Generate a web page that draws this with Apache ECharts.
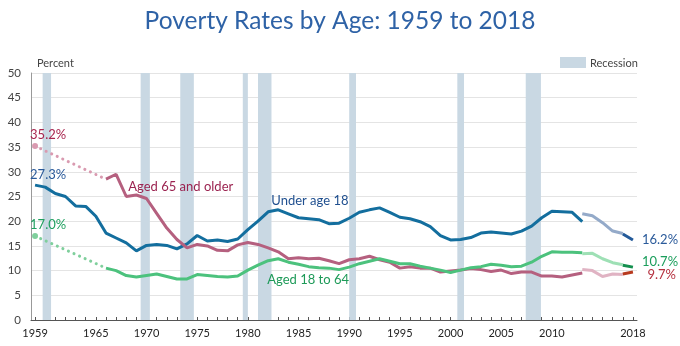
<!DOCTYPE html>
<html>
<head>
<meta charset="utf-8">
<script src="https://cdn.jsdelivr.net/npm/echarts@6/dist/echarts.min.js"></script>
<style>
  html, body { margin: 0; padding: 0; background: #fff; }
  #chart { width: 680px; height: 346px; }
</style>
</head>
<body>
<div id="chart"></div>
<script>
// Official poverty rates by age group, 1959-2018 (percent).
const years = [];
for (let y = 1959; y <= 2013; y++) years.push(y);

// Annual series from 1966 onward (adults), 1959 onward (children)
const under18 = [27.3, 26.9, 25.6, 25.0, 23.1, 23.0, 21.0, 17.6, 16.6, 15.6,
  14.0, 15.1, 15.3, 15.1, 14.4, 15.4, 17.1, 16.0, 16.2, 15.9,
  16.4, 18.3, 20.0, 21.9, 22.3, 21.5, 20.7, 20.5, 20.3, 19.5,
  19.6, 20.6, 21.8, 22.3, 22.7, 21.8, 20.8, 20.5, 19.9, 18.9,
  17.1, 16.2, 16.3, 16.7, 17.6, 17.8, 17.6, 17.4, 18.0, 19.0,
  20.7, 22.0, 21.9, 21.8, 19.9];

const age18to64Years = [];
for (let y = 1966; y <= 2013; y++) age18to64Years.push(y);
const age18to64 = [10.5, 10.0, 9.0, 8.7, 9.0, 9.3, 8.8, 8.3, 8.3, 9.2,
  9.0, 8.8, 8.7, 8.9, 10.1, 11.1, 12.0, 12.4, 11.7, 11.3,
  10.8, 10.6, 10.5, 10.2, 10.7, 11.4, 11.9, 12.4, 11.9, 11.4,
  11.4, 10.9, 10.5, 10.1, 9.6, 10.1, 10.6, 10.8, 11.3, 11.1,
  10.8, 10.9, 11.7, 12.9, 13.8, 13.7, 13.7, 13.6];

const age65Years = age18to64Years;
const age65plus = [28.5, 29.5, 25.0, 25.3, 24.6, 21.6, 18.6, 16.3, 14.6, 15.3,
  15.0, 14.1, 14.0, 15.2, 15.7, 15.3, 14.6, 13.8, 12.4, 12.6,
  12.4, 12.5, 12.0, 11.4, 12.2, 12.4, 12.9, 12.2, 11.7, 10.5,
  10.8, 10.5, 10.5, 9.7, 9.9, 10.1, 10.4, 10.2, 9.8, 10.1,
  9.4, 9.7, 9.7, 8.9, 8.9, 8.7, 9.1, 9.5];

// 1959 estimates, joined to 1966 with a dotted line
const estimateYears = [1959, 1966];
const under18_1959 = 27.3;
const age18to64_1959 = 17.0;
const age65plus_1959 = 35.2;

// Redesigned income questions, 2013-2017
const redesignYears = [2013, 2014, 2015, 2016, 2017];
const under18Redesign = [21.5, 21.1, 19.7, 18.0, 17.5];
const age18to64Redesign = [13.4, 13.5, 12.4, 11.6, 11.2];
const age65Redesign = [10.2, 10.0, 8.8, 9.3, 9.2];

// Updated processing system, 2017-2018
const updatedYears = [2017, 2018];
const under18Updated = [17.4, 16.2];
const age18to64Updated = [11.1, 10.7];
const age65Updated = [9.3, 9.7];

// Recession periods, expressed on the mid-year point scale
const recessions = [
  [1959.75, 1960.58], [1969.42, 1970.33], [1973.33, 1974.67],
  [1979.5, 1980.0], [1981.0, 1982.33], [1990.0, 1990.67],
  [2000.67, 2001.33], [2007.42, 2008.92]
];

const yTicks = [0, 5, 10, 15, 20, 25, 30, 35, 40, 45, 50];
const xLabelYears = [1959, 1965, 1970, 1975, 1980, 1985, 1990, 1995, 2000, 2005, 2010, 2018];
const xTickYears = [];
for (let y = 1959; y <= 2018; y++) xTickYears.push(y);

const pair = (xs, vs) => xs.map((x, i) => [x, vs[i]]);

const BLUE = '#136e9e', BLUE_LIGHT = '#94aac9', BLUE_NEW = '#235a9a';
const GREEN = '#4cc27d', GREEN_LIGHT = '#9ee0b5', GREEN_NEW = '#14904f';
const PINK = '#b5607f', PINK_LIGHT = '#e0b3c3', PINK_NEW = '#b83a1f';
const FONT = 'Lato, "Open Sans", sans-serif';

function line(name, data, color, extra) {
  return Object.assign({
    name: name, type: 'line', data: data, symbol: 'none',
    lineStyle: { color: color, width: 3 }, z: 3, animation: false
  }, extra || {});
}

function dotted(name, data, color) {
  return {
    name: name, type: 'line', data: data, symbol: 'none', animation: false, z: 2,
    lineStyle: { color: color, width: 3, type: [0.1, 6], cap: 'round' },
    markPoint: {
      symbol: 'circle', symbolSize: 6, silent: true, animation: false,
      itemStyle: { color: color }, label: { show: false },
      data: [{ coord: data[0] }]
    }
  };
}

const chart = echarts.init(document.getElementById('chart'), null, { renderer: 'canvas' });

chart.setOption({
  animation: false,
  backgroundColor: '#fff',
  title: {
    text: 'Poverty Rates by Age: 1959 to 2018',
    left: 'center', top: 4,
    textStyle: { fontFamily: FONT, fontSize: 24.5, fontWeight: 'normal', color: '#2e62a6' }
  },
  grid: { left: 31, right: 43, top: 73, bottom: 26, containLabel: false },
  xAxis: {
    type: 'value', min: 1958.6, max: 2018.4,
    splitLine: { show: false },
    axisLine: { show: true, lineStyle: { color: '#555', width: 1 } },
    axisTick: { show: true, inside: true, length: 3, customValues: xTickYears, lineStyle: { color: '#555' } },
    axisLabel: {
      customValues: xLabelYears, margin: 8, color: '#222',
      fontFamily: FONT, fontSize: 11, formatter: v => String(v)
    }
  },
  yAxis: {
    type: 'value', min: 0, max: 50, interval: 5,
    axisLine: { show: true, lineStyle: { color: '#999' } },
    axisTick: { show: false },
    splitLine: { lineStyle: { color: '#e4e4e4' } },
    axisLabel: { margin: 10, color: '#444', fontFamily: FONT, fontSize: 11.5 }
  },
  series: [
    {
      name: 'Recession', type: 'line', data: [], silent: true, animation: false,
      markArea: {
        silent: true, animation: false,
        itemStyle: { color: '#c9d8e3' },
        data: recessions.map(r => [{ xAxis: r[0], yAxis: 0 }, { xAxis: r[1], yAxis: 50 }])
      },
      z: 1
    },
    dotted('65 est', pair(estimateYears, [age65plus_1959, age65plus[0]]), '#d99ab0'),
    dotted('18-64 est', pair(estimateYears, [age18to64_1959, age18to64[0]]), '#7fcf9c'),
    line('Under age 18', pair(years, under18), BLUE),
    line('Aged 65 and older', pair(age65Years, age65plus), PINK),
    line('Aged 18 to 64', pair(age18to64Years, age18to64), GREEN),
    line('Under 18 redesign', pair(redesignYears, under18Redesign), BLUE_LIGHT),
    line('18-64 redesign', pair(redesignYears, age18to64Redesign), GREEN_LIGHT),
    line('65+ redesign', pair(redesignYears, age65Redesign), PINK_LIGHT),
    line('Under 18 updated', pair(updatedYears, under18Updated), BLUE_NEW),
    line('18-64 updated', pair(updatedYears, age18to64Updated), GREEN_NEW),
    line('65+ updated', pair(updatedYears, age65Updated), PINK_NEW)
  ]
});

// Annotations anchored to data points
const px = (x, v) => chart.convertToPixel({ gridIndex: 0 }, [x, v]);
const pct = v => v.toFixed(1) + '%';
function txt(text, pos, dx, dy, color, align) {
  return {
    type: 'text', x: pos[0] + dx, y: pos[1] + dy, z: 10, silent: true,
    style: { text: text, fill: color, font: '13px ' + FONT, textAlign: align || 'left', textVerticalAlign: 'middle' }
  };
}

const graphics = [
  txt(pct(age65plus_1959), px(1959, age65plus_1959), -5, -11, '#a8264f'),
  txt(pct(under18_1959), px(1959, under18_1959), -5, -10, '#2a5a9a'),
  txt(pct(age18to64_1959), px(1959, age18to64_1959), -5, -11, '#20a060'),
  txt(pct(under18Updated[1]), px(2018, under18Updated[1]), 9, 0, '#2a5a9a'),
  txt(pct(age18to64Updated[1]), px(2018, age18to64Updated[1]), 9, -5, '#1b9e5c'),
  txt(pct(age65Updated[1]), px(2018, age65Updated[1]), 43, 3, '#b5303f', 'right'),
  txt('Aged 65 and older', px(1968, 25.0), 2, -10, '#9b2350'),
  txt('Under age 18', px(1983, 22.3), -7, -9, '#1f4f8f'),
  txt('Aged 18 to 64', px(1983, 12.4), -11, 21, '#1d9a58'),
  {
    type: 'rect', z: 10, silent: true,
    shape: { x: 560, y: 57, width: 26, height: 11 },
    style: { fill: '#c9d8e3' }
  },
  {
    type: 'text', x: 590, y: 63, z: 10, silent: true,
    style: { text: 'Recession', fill: '#444', font: '11px ' + FONT, textVerticalAlign: 'middle' }
  },
  {
    type: 'text', x: 37, y: 63, z: 10, silent: true,
    style: { text: 'Percent', fill: '#444', font: '11px ' + FONT, textVerticalAlign: 'middle' }
  }
];
chart.setOption({ graphic: graphics });
</script>
</body>
</html>
